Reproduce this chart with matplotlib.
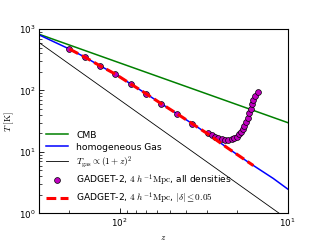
import matplotlib
matplotlib.use('Agg')
import matplotlib.pyplot as plt
import matplotlib as mpl

# Set plot parameters
mpl.rcParams['mathtext.fontset'] = 'cm'
mpl.rcParams['font.size'] = 6.6
mpl.rcParams['xtick.direction'] = 'in'
mpl.rcParams['ytick.direction'] = 'in'
mpl.rcParams['xtick.major.size'] = 3.5
mpl.rcParams['ytick.major.size'] = 3.5
mpl.rcParams['xtick.minor.size'] = 2
mpl.rcParams['ytick.minor.size'] = 2

# CMB temperature (end points)
z_cmb = [300, 10]
T_cmb = [820, 30]

# homogeneous gas
z_gas = [300, 199, 160, 131, 106, 85.5, 69.5, 56.4, 45.5, 36.9, 30, 23.1, 17, 12.2, 10]
T_gas = [800, 473, 346, 253, 185, 127, 88.5, 60.8, 41.8, 28.7, 19.8, 11.9, 6.7, 3.71, 2.49]

# T_gas ~ (1+z)^2 reference line (end points)
z_ad = [300, 10]
T_ad = [598, 0.8]

# GADGET-2, all densities
z_all = [198.6, 160, 130.6, 106, 85.5, 69.5, 56.4, 45.5, 36.9,
         29.6, 28.3, 27.0, 25.9, 24.7, 23.6, 22.5, 21.5, 20.8, 20.1, 19.5,
         19.0, 18.5, 18.1, 17.7, 17.3, 16.9, 16.6, 16.3, 16.0, 15.6, 15.0]
T_all = [473, 346, 253, 185, 127, 88.5, 60.8, 41.8, 28.7,
         20.1, 18.8, 17.7, 16.6, 16.0, 15.6, 15.6, 16.0, 16.6, 17.7, 19.3,
         21.3, 23.6, 26.7, 31.0, 36.0, 42.5, 49.9, 59.5, 69.9, 81.2, 95.3]

# GADGET-2, |delta| <= 0.05
z_mean = [198.6, 160, 131, 106, 85.5, 69.5, 56.4, 45.5, 36.9, 30, 23.1, 16]
T_mean = [473, 346, 253, 185, 127, 88.5, 60.8, 41.8, 28.7, 19.8, 11.9, 6.0]

fig = plt.figure(figsize=(3.2, 2.4), dpi=100)
ax = fig.add_axes([0.123, 0.111, 0.776, 0.768])

ax.plot(z_cmb, T_cmb, color='g', lw=1.1, label='CMB')
ax.plot(z_gas, T_gas, color='b', lw=1.1, label='homogeneous Gas')
ax.plot(z_ad, T_ad, color='k', lw=0.6, label=r'$T_{\rm gas} \propto (1+z)^2$')
ax.plot(z_all, T_all, 'o', color='m', mec='k', mew=0.5, ms=4.2,
        label=r'GADGET-2, $4\ h^{-1}{\rm Mpc}$, all densities')
ax.plot(z_mean, T_mean, color='r', lw=2.2, dashes=(3.2, 1.4),
        label=r'GADGET-2, $4\ h^{-1}{\rm Mpc}$, $|\delta| \leq 0.05$')

ax.set_xscale('log')
ax.set_yscale('log')
ax.set_xlim(300, 10)
ax.set_ylim(1, 1000)
ax.set_xlabel(r'$z$', fontsize=6.5, labelpad=3)
ax.set_ylabel(r'$T\ [\mathrm{K}]$', fontsize=6.5, labelpad=2)
ax.tick_params(labelsize=6.3, width=0.6, pad=2.5)
ax.tick_params(which='minor', width=0.5)
for sp in ax.spines.values():
    sp.set_linewidth(0.8)

ax.legend(loc='lower left', frameon=False, handlelength=2.4,
          handletextpad=0.9, labelspacing=0.32, borderaxespad=0.35,
          borderpad=0.4)

fig.savefig('out.png', dpi=100)
